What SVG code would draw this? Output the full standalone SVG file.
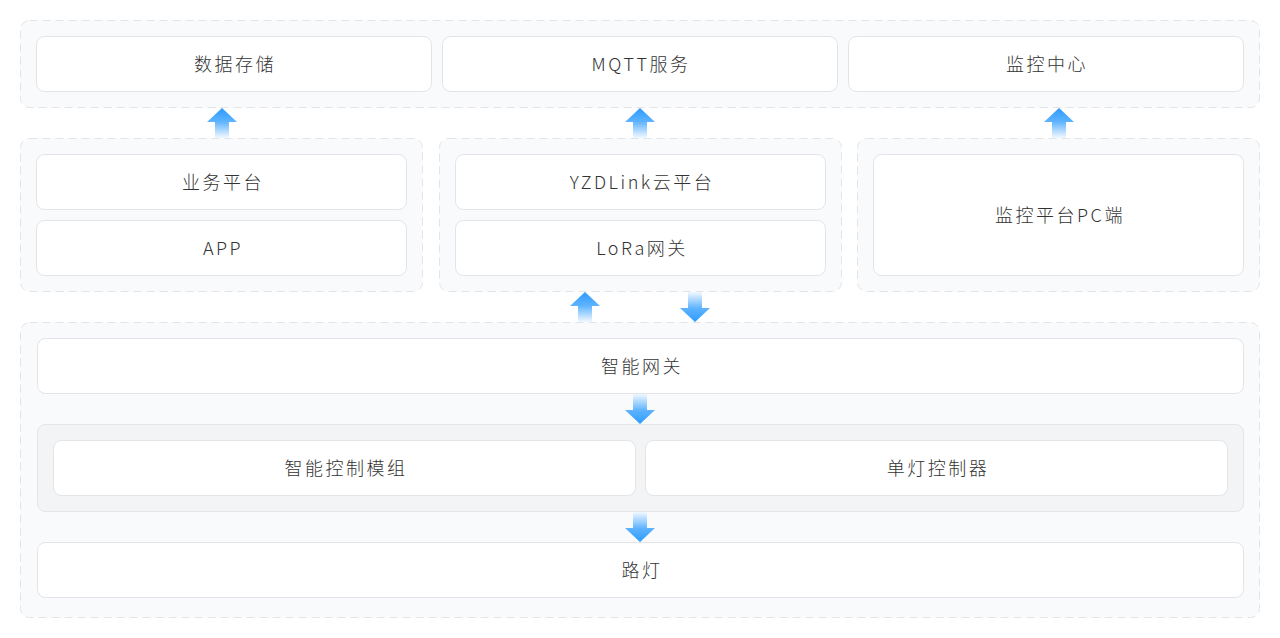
<svg xmlns="http://www.w3.org/2000/svg" width="1280" height="638" viewBox="0 0 1280 638">
<style>
.bg{fill:#ffffff}
.grp{fill:#f9fafc;stroke:#e3e4e8;stroke-width:1;stroke-dasharray:8 5}
.inner{fill:#f3f4f6;stroke:#e3e4e8;stroke-width:1}
.box{fill:#ffffff;stroke:#e3e4e8;stroke-width:1}
.t{font-family:"Noto Sans CJK SC","Noto Sans",sans-serif;font-size:18px;font-weight:300;fill:#333333;text-anchor:middle;letter-spacing:2.5px}
</style>
<defs>
<linearGradient id="ag" x1="0" y1="0" x2="0" y2="1">
<stop offset="0" stop-color="#2d9bff"/>
<stop offset="0.45" stop-color="#5db3ff"/>
<stop offset="1" stop-color="#f2f8ff"/>
</linearGradient>
<path id="up" d="M0,0 L15,14 L7,14 L7,30 L-7,30 L-7,14 L-15,14 Z" fill="url(#ag)"/>
</defs>
<rect class="bg" x="0" y="0" width="1280" height="638"/>

<g id="layer-top">
<rect class="grp" x="20.5" y="20.5" width="1239" height="87" rx="9"/>
</g>
<g id="n-storage"><rect class="box" x="36.5" y="36.5" width="395" height="55" rx="8"/><text class="t" x="235" y="71">数据存储</text></g>
<g id="n-mqtt"><rect class="box" x="442.5" y="36.5" width="395" height="55" rx="8"/><text class="t" x="641" y="71">MQTT服务</text></g>
<g id="n-monitor"><rect class="box" x="848.5" y="36.5" width="395" height="55" rx="8"/><text class="t" x="1047" y="71">监控中心</text></g>

<g id="layer-mid">
<rect class="grp" x="20.5" y="138.5" width="402" height="153" rx="9"/>
<rect class="grp" x="439.5" y="138.5" width="402" height="153" rx="9"/>
<rect class="grp" x="857.5" y="138.5" width="402" height="153" rx="9"/>
</g>
<g id="n-biz"><rect class="box" x="36.5" y="154.5" width="370" height="55" rx="8"/><text class="t" x="223" y="189">业务平台</text></g>
<g id="n-app"><rect class="box" x="36.5" y="220.5" width="370" height="55" rx="8"/><text class="t" x="223" y="255">APP</text></g>
<g id="n-cloud"><rect class="box" x="455.5" y="154.5" width="370" height="55" rx="8"/><text class="t" x="642" y="189">YZDLink云平台</text></g>
<g id="n-lora"><rect class="box" x="455.5" y="220.5" width="370" height="55" rx="8"/><text class="t" x="642" y="255">LoRa网关</text></g>
<g id="n-pc"><rect class="box" x="873.5" y="154.5" width="370" height="121" rx="8"/><text class="t" x="1060" y="222">监控平台PC端</text></g>

<g id="layer-bottom">
<rect class="grp" x="20.5" y="322.5" width="1239" height="295" rx="9"/>
<rect class="inner" x="37.5" y="424.5" width="1206" height="87" rx="8"/>
</g>
<g id="n-gateway"><rect class="box" x="37.5" y="338.5" width="1206" height="55" rx="8"/><text class="t" x="642" y="373">智能网关</text></g>
<g id="n-module"><rect class="box" x="53.5" y="440.5" width="582" height="55" rx="8"/><text class="t" x="346" y="475">智能控制模组</text></g>
<g id="n-single"><rect class="box" x="645.5" y="440.5" width="582" height="55" rx="8"/><text class="t" x="938" y="475">单灯控制器</text></g>
<g id="n-lamp"><rect class="box" x="37.5" y="542.5" width="1206" height="55" rx="8"/><text class="t" x="642" y="577">路灯</text></g>

<g id="connectors">
<use href="#up" x="222" y="108"/>
<use href="#up" x="640" y="108"/>
<use href="#up" x="1059" y="108"/>
<use href="#up" x="585" y="292"/>
<use href="#up" transform="translate(695,322) rotate(180)"/>
<use href="#up" transform="translate(640,424) rotate(180)"/>
<use href="#up" transform="translate(640,542) rotate(180)"/>
</g>
</svg>
